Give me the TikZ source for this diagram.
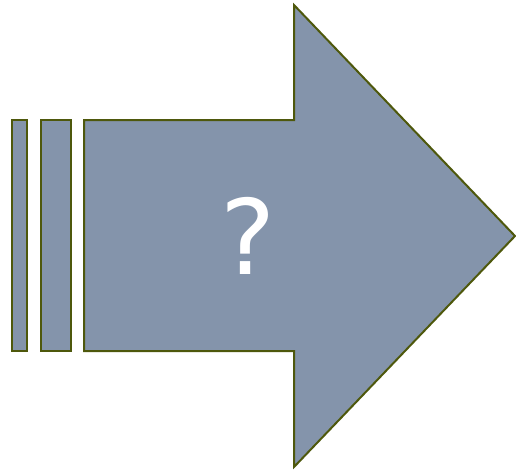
\documentclass[tikz,border=0pt]{standalone}
\usepackage{fontspec}
\setsansfont{DejaVu Sans}
\usetikzlibrary{calc}
\definecolor{arrowfill}{HTML}{8494AB}
\definecolor{olive}{HTML}{4E580C}

\begin{document}
\begin{tikzpicture}[
    x=1pt, y=-1pt,
    % Outlined shape part
    part/.style={fill=arrowfill, draw=olive, line width=2pt, line join=miter},
    % Big mark in the arrow
    mark label/.style={font=\sffamily\fontsize{104}{104}\selectfont, text=white, inner sep=0pt}
]
\useasboundingbox (0,0) rectangle (516,471);

% ---------- Trailing bars ----------
\draw[part] (12,120) rectangle (27,351);
\draw[part] (41,120) rectangle (70.5,351);

% ---------- Big arrow ----------
\draw[part] (84,120) -- (294,120) -- (294,5) -- (515,236)
    -- (294,467) -- (294,351) -- (84,351) -- cycle;

% ---------- Label ----------
\node[mark label] (qmark) at (248,236) {?};

\end{tikzpicture}
\end{document}
